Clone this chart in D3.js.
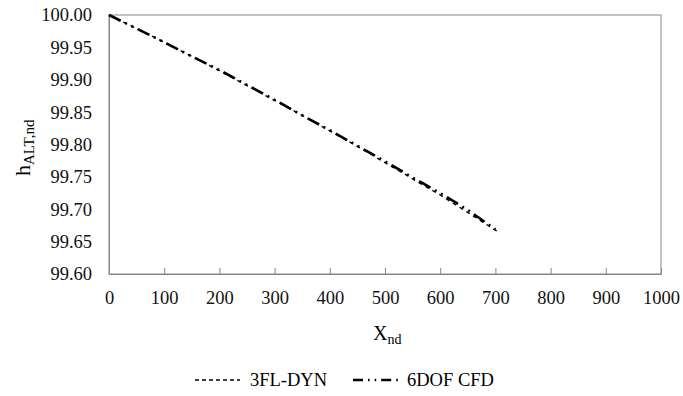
<!DOCTYPE html>
<html><head><meta charset="utf-8">
<script src="https://cdn.jsdelivr.net/npm/d3@7"></script>
<style>body{margin:0;background:#fff}svg{display:block}</style>
</head><body>
<svg id="chart" width="683" height="396"></svg>
<script>
const xTicks = [0,100,200,300,400,500,600,700,800,900,1000];
const yTicks = [99.60,99.65,99.70,99.75,99.80,99.85,99.90,99.95,100.00];
const seriesNames = ["3FL-DYN","6DOF CFD"];
const x3FL = [0,50,100,150,200,250,300,350,400,450,500,550,600,650,705];
const h3FL = [100.000,99.979,99.958,99.936,99.914,99.891,99.868,99.845,99.821,99.797,99.772,99.747,99.722,99.695,99.665];
const x6DOF = [0,50,100,150,200,250,300,350,400,450,500,550,600,650,700];
const h6DOF = [100.000,99.979,99.958,99.936,99.915,99.892,99.869,99.845,99.822,99.798,99.774,99.749,99.725,99.699,99.669];

const FONT = '"Liberation Serif"';
const svg = d3.select("#chart");
const L=109, R=661, T=15, B=274;
const x = d3.scaleLinear().domain([0,1000]).range([L,R]);
const y = d3.scaleLinear().domain([99.60,100.00]).range([B,T]);

// frame
svg.append("rect").attr("x",L).attr("y",T).attr("width",R-L).attr("height",B-T)
  .attr("fill","none").attr("stroke","#868686").attr("stroke-width",1);

// x axis
const gx = svg.append("g").attr("transform",`translate(0,${B})`)
  .call(d3.axisBottom(x).tickValues(xTicks).tickSizeInner(-6).tickSizeOuter(0).tickPadding(17).tickFormat(d3.format("d")));
gx.select(".domain").attr("stroke","#868686");
gx.selectAll(".tick line").attr("stroke","#868686");
gx.selectAll(".tick text").style("font-family",FONT).attr("font-size",18.5).attr("fill","#111");

// y axis
const gy = svg.append("g").attr("transform",`translate(${L},0)`)
  .call(d3.axisLeft(y).tickValues(yTicks).tickSize(0).tickPadding(17).tickFormat(d3.format(".2f")));
gy.select(".domain").attr("stroke","#868686");
gy.selectAll(".tick text").style("font-family",FONT).attr("font-size",18.5).attr("fill","#111");

// titles
const xt = svg.append("text").attr("x",373).attr("y",340).style("font-family",FONT).attr("font-size",20).attr("fill","#000");
xt.append("tspan").text("X");
xt.append("tspan").attr("font-size",14).attr("dy",4).text("nd");

const yt = svg.append("text").attr("transform","translate(30,176) rotate(-90)").style("font-family",FONT).attr("font-size",22).attr("fill","#000");
yt.append("tspan").text("h");
yt.append("tspan").attr("font-size",15).attr("dy",4).text("ALT,nd");

// lines
const line = d3.line().x(d=>x(d[0])).y(d=>y(d[1]));
const d3FL = x3FL.map((v,i)=>[v,h3FL[i]]);
const d6 = x6DOF.map((v,i)=>[v,h6DOF[i]]);
const styles = [
  {dash:"4,4", w:1.4},
  {dash:"13,5,2,5,2,5", w:2.6}
];
svg.append("path").datum(d3FL).attr("d",line).attr("fill","none").attr("stroke","#000")
  .attr("stroke-width",styles[0].w).attr("stroke-dasharray",styles[0].dash);
svg.append("path").datum(d6).attr("d",line).attr("fill","none").attr("stroke","#000")
  .attr("stroke-width",styles[1].w).attr("stroke-dasharray",styles[1].dash);

// legend
const legStyles = [{dash:"4,3", w:1.4},{dash:"10,5,1.6,5,1.6,5", w:2.6}];
const leg = [{x0:195,x1:240,tx:250},{x0:353,x1:398,tx:407}];
seriesNames.forEach((n,i)=>{
  svg.append("line").attr("x1",leg[i].x0).attr("x2",leg[i].x1).attr("y1",380).attr("y2",380)
    .attr("stroke","#000").attr("stroke-width",legStyles[i].w).attr("stroke-dasharray",legStyles[i].dash);
  svg.append("text").attr("x",leg[i].tx).attr("y",386).style("font-family",FONT).attr("font-size",18.5)
    .attr("fill","#000").text(n);
});
</script>
</body></html>
